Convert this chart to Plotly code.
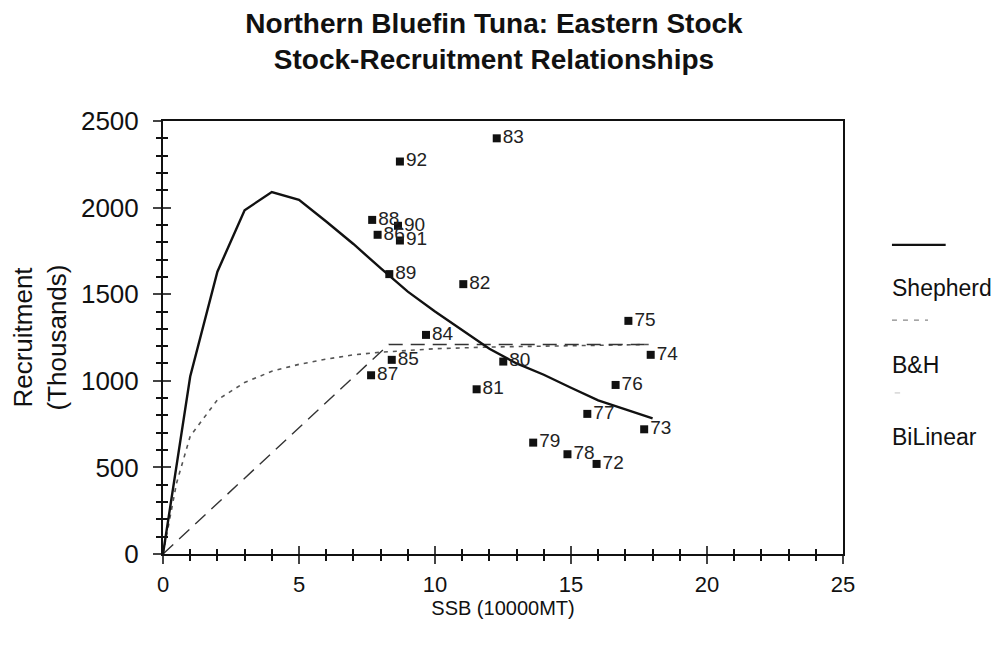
import plotly.graph_objects as go

# Observed stock-recruitment points (SSB in 10000 MT, recruitment in thousands)
years = ["72", "73", "74", "75", "76", "77", "78", "79", "80", "81", "82",
         "83", "84", "85", "86", "87", "88", "89", "90", "91", "92"]
ssb = [15.94, 17.69, 17.93, 17.11, 16.64, 15.60, 14.87, 13.61, 12.51, 11.53, 11.04,
       12.27, 9.67, 8.41, 7.89, 7.65, 7.69, 8.32, 8.64, 8.71, 8.71]
recruit = [520, 720, 1150, 1346, 976, 809, 576, 643, 1111, 951, 1558,
           2400, 1265, 1121, 1843, 1032, 1929, 1616, 1895, 1810, 2266]

# Fitted curves
shep_x = [0, 1, 2, 3, 4, 5, 6, 7, 8, 9, 10, 11, 12, 13, 14, 15, 16, 17, 18]
shep_y = [0, 1025, 1630, 1985, 2090, 2045, 1920, 1790, 1650, 1515, 1400, 1290,
          1185, 1100, 1035, 960, 887, 835, 783]

bh_x = [0, 0.5, 1, 2, 3, 4, 5, 6, 7, 8, 9, 10, 12, 14, 16, 18]
bh_y = [0, 410, 680, 890, 990, 1055, 1095, 1125, 1150, 1165, 1175, 1185, 1195,
        1200, 1205, 1210]

bil_x = [0, 8.3, 18]
bil_y = [0, 1210, 1210]

x_ticks = [0, 5, 10, 15, 20, 25]
y_ticks = [0, 500, 1000, 1500, 2000, 2500]

FONT = "Liberation Sans, Arial, sans-serif"
INK = "#111111"

fig = go.Figure()

fig.add_trace(go.Scatter(x=bh_x, y=bh_y, mode="lines", name="B&H",
                         line=dict(color="#555555", width=1.6, dash="4px,5px")))
fig.add_trace(go.Scatter(x=bil_x, y=bil_y, mode="lines", name="BiLinear",
                         line=dict(color="#333333", width=1.4, dash="14px,8px")))
fig.add_trace(go.Scatter(x=shep_x, y=shep_y, mode="lines", name="Shepherd",
                         line=dict(color=INK, width=2.4)))
fig.add_trace(go.Scatter(x=ssb, y=recruit, mode="markers+text", text=years,
                         textposition="middle right",
                         textfont=dict(family=FONT, size=19, color="#222222"),
                         marker=dict(symbol="square", size=8, color=INK),
                         showlegend=False))

axis_common = dict(showgrid=False, zeroline=False, linecolor=INK, automargin=False)

fig.update_layout(
    width=1000, height=646,
    paper_bgcolor="white", plot_bgcolor="white",
    margin=dict(l=155, r=165, t=113, b=100),
    showlegend=False,
    font=dict(family=FONT, color=INK),
    title=dict(text="<b>Northern Bluefin Tuna: Eastern Stock<br>Stock-Recruitment Relationships</b>",
               x=0.486, xanchor="center", y=0.962, yanchor="top",
               font=dict(family=FONT, size=28, color=INK)),
    xaxis=dict(range=[0, 25], tickvals=x_ticks, ticks="outside", ticklen=8,
               tickwidth=1.5, linewidth=2, mirror=True,
               minor=dict(dtick=1, ticks="outside", ticklen=5, tickcolor=INK),
               tickfont=dict(family=FONT, size=22), ticklabelstandoff=2,
               title=dict(text="SSB (10000MT)", font=dict(family=FONT, size=20), standoff=2),
               **axis_common),
    yaxis=dict(range=[0, 2500], tickvals=y_ticks, ticks="outside", ticklen=8,
               tickwidth=1.5, linewidth=2, mirror=True,
               minor=dict(dtick=100, ticks="outside", ticklen=5, tickcolor=INK),
               tickfont=dict(family=FONT, size=26), ticklabelstandoff=9,
               title=dict(text="Recruitment<br>(Thousands)", font=dict(family=FONT, size=26), standoff=8),
               **axis_common),
    xaxis2=dict(range=[0, 25], overlaying="x", anchor="y", tickvals=x_ticks, ticks="inside",
                ticklen=8, tickwidth=1.5, showticklabels=False, showline=False,
                minor=dict(dtick=1, ticks="inside", ticklen=5, tickcolor=INK),
                **axis_common),
    yaxis2=dict(range=[0, 2500], overlaying="y", anchor="x", tickvals=y_ticks, ticks="inside",
                ticklen=8, tickwidth=1.5, showticklabels=False, showline=False,
                minor=dict(dtick=100, ticks="inside", ticklen=5, tickcolor=INK),
                **axis_common),
)

# invisible trace to activate the overlay axes
fig.add_trace(go.Scatter(x=[0], y=[0], xaxis="x2", yaxis="y2", mode="markers",
                         marker=dict(opacity=0), hoverinfo="skip", showlegend=False))

# Custom legend on the right: sample line above each label
legend_items = [
    ("Shepherd", dict(color=INK, width=2.4, dash="solid"), 1.072, 1.151, 0.714, 0.614),
    ("B&H", dict(color="#888888", width=1.2, dash="5px,6px"), 1.072, 1.125, 0.540, 0.436),
    ("BiLinear", dict(color="#cccccc", width=1.2, dash="solid"), 1.076, 1.084, 0.372, 0.270),
]
for label, ln, x0, x1, ly, ty in legend_items:
    fig.add_shape(type="line", xref="paper", yref="paper", x0=x0, x1=x1, y0=ly, y1=ly,
                  line=ln)
    fig.add_annotation(text=label, xref="paper", yref="paper", x=1.069, y=ty,
                       xanchor="left", yanchor="middle", showarrow=False,
                       font=dict(family=FONT, size=23, color=INK))

fig.write_html("out.html")
